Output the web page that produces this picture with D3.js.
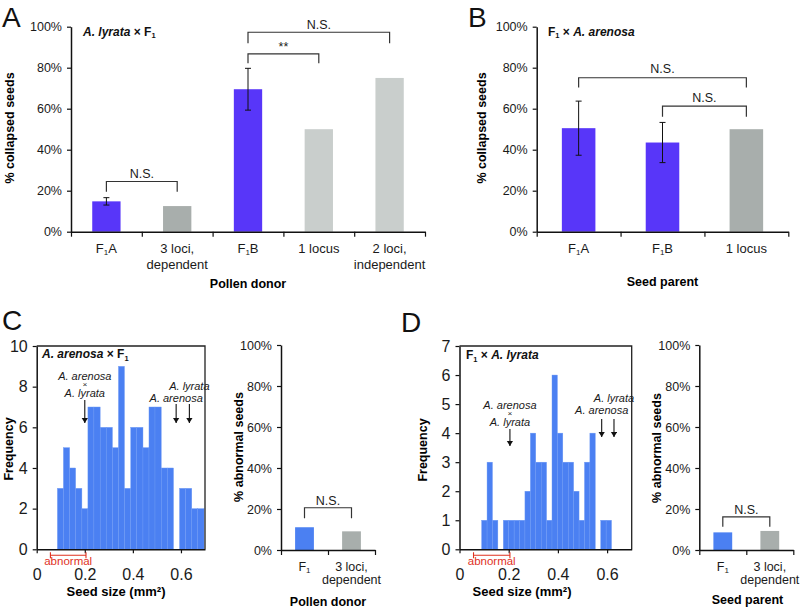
<!DOCTYPE html>
<html>
<head>
<meta charset="utf-8">
<script src="https://cdn.jsdelivr.net/npm/d3@7"></script>
<style>
  body { margin: 0; background: #fff; }
  svg { font-family: Arial, Helvetica, "Liberation Sans", sans-serif; }
</style>
</head>
<body>
<svg id="fig" width="800" height="607"></svg>
<script>
// ---- data ----
var pctTicks = [0, 20, 40, 60, 80, 100];

// A: A. lyrata x F1 (pollen donor)
var catsA = ["F₁A", "3 loci,|dependent", "F₁B", "1 locus", "2 loci,|independent"];
var valsA = [14.8, 12.5, 69.5, 50, 75];
var errA  = [1.8, 0, 10.2, 0, 0];
var sigPairsA  = [[0, 1], [2, 3], [2, 4]];
var sigLabelsA = ["N.S.", "**", "N.S."];
var sigTopA    = [24.5, 86.7, 97.3];
var sigFootA   = [19.5, 82.2, 91.9];

// B: F1 x A. arenosa (seed parent)
var catsB = ["F₁A", "F₁B", "1 locus"];
var valsB = [50.5, 43.5, 50];
var errB  = [13.2, 9.8, 0];
var sigPairsB  = [[0, 2], [1, 2]];
var sigLabelsB = ["N.S.", "N.S."];
var sigTopB    = [75.1, 61.3];
var sigFootB   = [70.4, 56.1];

// C: A. arenosa x F1, seed size histogram
var binEdgesC = [0.086, 0.111, 0.137, 0.162, 0.188, 0.213, 0.238, 0.264, 0.289, 0.315, 0.340, 0.365,
                 0.391, 0.416, 0.442, 0.467, 0.492, 0.518, 0.543, 0.569, 0.594, 0.619, 0.645, 0.670, 0.696];
var freqC = [3, 5, 4, 3, 2, 7, 7, 6, 6, 5, 9, 3, 6, 6, 5, 7, 7, 4, 4, 0, 3, 3, 2, 2];
var freqTicksC = [0, 2, 4, 6, 8, 10];
var arrowsC = [0.2, 0.58, 0.635];   // hybrid, A. arenosa, A. lyrata
var catsC = ["F₁", "3 loci,|dependent"];
var valsC = [11.1, 9.1];
var sigTopC = [20.6], sigFootC = [15.5];

// D: F1 x A. lyrata, seed size histogram
var binEdgesD = [0.090, 0.112, 0.134, 0.156, 0.178, 0.200, 0.222, 0.244, 0.266, 0.288, 0.310, 0.332,
                 0.354, 0.376, 0.398, 0.420, 0.442, 0.464, 0.486, 0.508, 0.530, 0.552, 0.574, 0.596, 0.618];
var freqD = [1, 3, 1, 0, 1, 1, 1, 1, 2, 4, 3, 3, 1, 6, 4, 3, 3, 2, 1, 3, 4, 0, 1, 1];
var freqTicksD = [0, 1, 2, 3, 4, 5, 6, 7];
var arrowsD = [0.205, 0.578, 0.628];
var catsD = ["F₁", "3 loci,|dependent"];
var valsD = [8.6, 9.3];
var sigTopD = [16.2], sigFootD = [11.4];

var sizeTicks = [0, 0.2, 0.4, 0.6];
var abnormalRange = [0.057, 0.205];

// ---- colours ----
var purple = "#5836f9", blue = "#4b80f2", grayDark = "#a8aeac", grayLight = "#c9cecc";

var svg = d3.select("#fig");

svg.append("defs").append("marker")
  .attr("id", "ah").attr("viewBox", "0 0 8 10").attr("refX", 8).attr("refY", 5)
  .attr("markerWidth", 5).attr("markerHeight", 7).attr("markerUnits", "userSpaceOnUse")
  .attr("orient", "auto")
  .append("path").attr("d", "M0,0L8,5L0,10z").attr("fill", "#111");

// text with F1 style subscripts
function addRich(t, str, subSize) {
  var parts = str.split("₁");
  t.append("tspan").text(parts[0]);
  for (var i = 1; i < parts.length; i++) {
    t.append("tspan").attr("font-size", subSize).attr("dy", 2.5).text("1");
    if (parts[i]) t.append("tspan").attr("dy", -2.5).text(parts[i]);
  }
}

function styleAxis(a, fs) {
  a.attr("font-size", fs).attr("font-family", null);
  a.selectAll("text").attr("fill", "#1a1a1a");
  a.select(".domain").attr("stroke", "#111").attr("stroke-width", 1.5);
  a.selectAll(".tick line").attr("stroke", "#111").attr("stroke-width", 1.2);
}

function barPanel(o) {
  var g = svg.append("g");
  var n = o.cats.length;
  var x = d3.scaleBand().domain(d3.range(n)).range([o.x0, o.x1]).paddingInner(0.6).paddingOuter(0.3);
  var xEdge = d3.scaleLinear().domain([0, n]).range([o.x0, o.x1]);
  var y = d3.scaleLinear().domain([0, 100]).range([o.y0, o.y1]);
  var cx = function(i) { return x(i) + x.bandwidth() / 2; };

  g.selectAll(".bar").data(o.vals).join("rect").attr("class", "bar")
    .attr("x", function(d, i) { return x(i); })
    .attr("width", x.bandwidth())
    .attr("y", function(d) { return y(d); })
    .attr("height", function(d) { return y(0) - y(d); })
    .attr("fill", function(d, i) { return o.fills[i]; });

  o.vals.forEach(function(v, i) {
    var e = o.errs[i];
    if (!e) return;
    var c = cx(i);
    g.append("path")
      .attr("d", "M" + (c - 3) + "," + y(v + e) + "H" + (c + 3) + "M" + c + "," + y(v + e) + "V" + y(v - e) +
                 "M" + (c - 3) + "," + y(v - e) + "H" + (c + 3))
      .attr("fill", "none").attr("stroke", "#111").attr("stroke-width", 1);
  });

  var ay = g.append("g").attr("transform", "translate(" + o.x0 + ",0)")
    .call(d3.axisLeft(y).tickValues(pctTicks).tickFormat(function(d) { return d + "%"; })
      .tickSize(4).tickSizeOuter(0).tickPadding(5));
  styleAxis(ay, 12.5);

  var ax = g.append("g").attr("transform", "translate(0," + o.y0 + ")")
    .call(d3.axisBottom(xEdge).tickValues(d3.range(n + 1)).tickFormat(function() { return ""; })
      .tickSize(5).tickSizeOuter(0));
  styleAxis(ax, 12.5);

  o.cats.forEach(function(c, i) {
    c.split("|").forEach(function(line, k) {
      var t = g.append("text").attr("x", cx(i)).attr("y", o.y0 + o.labDy + k * o.lineGap)
        .attr("text-anchor", "middle").attr("font-size", o.catFont).attr("fill", "#1a1a1a");
      addRich(t, line, 8);
    });
  });

  o.sigPairs.forEach(function(p, k) {
    var xa = cx(p[0]), xb = cx(p[1]), yt = y(o.sigTop[k]), yf = y(o.sigFoot[k]);
    g.append("path").attr("d", "M" + xa + "," + yf + "V" + yt + "H" + xb + "V" + yf)
      .attr("fill", "none").attr("stroke", "#333").attr("stroke-width", 1.2);
    g.append("text").attr("x", (xa + xb) / 2).attr("y", yt - o.sigGap)
      .attr("text-anchor", "middle").attr("font-size", 12.5).attr("fill", "#1a1a1a").text(o.sigLabels[k]);
  });

  g.append("text").attr("transform", "translate(" + o.ytX + "," + o.ytY + ") rotate(-90)")
    .attr("dy", "0.35em").attr("text-anchor", "middle").attr("font-weight", "bold")
    .attr("font-size", 12.5).text(o.yTitle);
  g.append("text").attr("x", o.xtX).attr("y", o.xtY).attr("text-anchor", "middle")
    .attr("font-weight", "bold").attr("font-size", 12.5).text(o.xTitle);
  return g;
}

function histPanel(o) {
  var g = svg.append("g");
  var x = d3.scaleLinear().domain([0, 0.7]).range([o.x0, o.x1]);
  var y = d3.scaleLinear().domain([0, o.yMax]).range([o.y0, o.y1]);

  g.selectAll(".bin").data(o.freq).join("rect").attr("class", "bin")
    .attr("x", function(d, i) { return x(o.edges[i]); })
    .attr("width", function(d, i) { return x(o.edges[i + 1]) - x(o.edges[i]); })
    .attr("y", function(d) { return y(d); })
    .attr("height", function(d) { return y(0) - y(d); })
    .attr("fill", blue).attr("stroke", "#6e9af5").attr("stroke-width", 0.4);

  // frame
  g.append("path").attr("d", "M" + o.x0 + "," + o.y1 + "H" + o.x1 + "V" + o.y0)
    .attr("fill", "none").attr("stroke", "#222").attr("stroke-width", 1.3);

  var ay = g.append("g").attr("transform", "translate(" + o.x0 + ",0)")
    .call(d3.axisLeft(y).tickValues(o.yTicks).tickFormat(d3.format("d"))
      .tickSize(4).tickSizeOuter(0).tickPadding(5));
  styleAxis(ay, 16);
  var ax = g.append("g").attr("transform", "translate(0," + o.y0 + ")")
    .call(d3.axisBottom(x).tickValues(sizeTicks).tickFormat(function(d) { return d === 0 ? "0" : d3.format(".1f")(d); })
      .tickSize(4).tickSizeOuter(0).tickPadding(15));
  styleAxis(ax, 16);

  // arrows to parental / hybrid seed sizes
  var ax0 = x(o.arrows[0]);
  g.append("line").attr("x1", ax0).attr("x2", ax0).attr("y1", o.arrowL[0]).attr("y2", o.arrowL[1])
    .attr("stroke", "#111").attr("stroke-width", 1.1).attr("marker-end", "url(#ah)");
  [1, 2].forEach(function(k) {
    g.append("line").attr("x1", x(o.arrows[k])).attr("x2", x(o.arrows[k]))
      .attr("y1", o.arrowR[0]).attr("y2", o.arrowR[1])
      .attr("stroke", "#111").attr("stroke-width", 1.1).attr("marker-end", "url(#ah)");
  });
  var it = function(xx, yy, s, fs) {
    g.append("text").attr("x", xx).attr("y", yy).attr("text-anchor", "middle")
      .attr("font-size", fs || 11).attr("font-style", "italic").attr("fill", "#1a1a1a").text(s);
  };
  it(ax0, o.labL[0], "A. arenosa");
  it(ax0, o.labL[1], "×", 8);
  it(ax0, o.labL[2], "A. lyrata");
  it(x(o.arrows[1]), o.labR[1], "A. arenosa");
  it(x(o.arrows[2]), o.labR[0], "A. lyrata");

  // abnormal size range
  var xa = x(abnormalRange[0]), xb = x(abnormalRange[1]), yb = o.y0 + 6;
  g.append("path").attr("d", "M" + xa + "," + (yb - 3) + "V" + (yb + 3) + "M" + xa + "," + yb + "H" + xb +
                             "M" + xb + "," + (yb - 3) + "V" + (yb + 3))
    .attr("fill", "none").attr("stroke", "#e0321f").attr("stroke-width", 1.1);
  g.append("text").attr("x", (xa + xb) / 2).attr("y", yb + 10).attr("text-anchor", "middle")
    .attr("font-size", 11.5).attr("fill", "#e0321f").text("abnormal");

  g.append("text").attr("transform", "translate(" + o.ytX + "," + o.ytY + ") rotate(-90)")
    .attr("dy", "0.35em").attr("text-anchor", "middle").attr("font-weight", "bold")
    .attr("font-size", 12.5).text("Frequency");
  g.append("text").attr("x", o.xtX).attr("y", o.xtY).attr("text-anchor", "middle")
    .attr("font-weight", "bold").attr("font-size", 13).text("Seed size (mm²)");
  return g;
}

function inTitle(xx, yy, parts) {
  var t = svg.append("text").attr("x", xx).attr("y", yy).attr("font-size", 12)
    .attr("font-weight", "bold").attr("fill", "#111");
  parts.forEach(function(p) {
    var s = t.append("tspan").text(p[0]);
    if (p[1] === "i") s.attr("font-style", "italic");
    if (p[1] === "sub") s.attr("font-size", 7.5).attr("dy", 2.5);
    if (p[1] === "up") s.attr("dy", -2.5);
  });
}

// ---- panels ----
barPanel({cats: catsA, vals: valsA, errs: errA, fills: [purple, grayDark, purple, grayLight, grayLight],
  x0: 71, x1: 425, y0: 231.7, y1: 26.7, labDy: 21, lineGap: 16, catFont: 13,
  sigPairs: sigPairsA, sigLabels: sigLabelsA, sigTop: sigTopA, sigFoot: sigFootA, sigGap: 3,
  yTitle: "% collapsed seeds", ytX: 10, ytY: 128, xTitle: "Pollen donor", xtX: 248, xtY: 288});

barPanel({cats: catsB, vals: valsB, errs: errB, fills: [purple, purple, grayDark],
  x0: 536.7, x1: 788.3, y0: 231.7, y1: 26.7, labDy: 21, lineGap: 16, catFont: 13,
  sigPairs: sigPairsB, sigLabels: sigLabelsB, sigTop: sigTopB, sigFoot: sigFootB, sigGap: 4.5,
  yTitle: "% collapsed seeds", ytX: 482, ytY: 128, xTitle: "Seed parent", xtX: 662.5, xtY: 286});

histPanel({edges: binEdgesC, freq: freqC, yMax: 10, yTicks: freqTicksC, arrows: arrowsC,
  x0: 36.7, x1: 205, y0: 549.3, y1: 346,
  arrowL: [400, 423], arrowR: [404, 423], labL: [379.5, 387, 396.5], labR: [390, 402],
  ytX: 9, ytY: 449, xtX: 116, xtY: 596});

histPanel({edges: binEdgesD, freq: freqD, yMax: 7, yTicks: freqTicksD, arrows: arrowsD,
  x0: 459.5, x1: 631.7, y0: 549.3, y1: 346,
  arrowL: [429, 446], arrowR: [419, 437], labL: [408.5, 416, 425.5], labR: [402, 414],
  ytX: 423, ytY: 450, xtX: 522, xtY: 595.5});

barPanel({cats: catsC, vals: valsC, errs: [0, 0], fills: [blue, grayDark],
  x0: 281, x1: 375, y0: 550, y1: 345, labDy: 20.5, lineGap: 13, catFont: 12.5,
  sigPairs: [[0, 1]], sigLabels: ["N.S."], sigTop: sigTopC, sigFoot: sigFootC, sigGap: 3,
  yTitle: "% abnormal seeds", ytX: 238.5, ytY: 447, xTitle: "Pollen donor", xtX: 328, xtY: 605.5});

barPanel({cats: catsD, vals: valsD, errs: [0, 0], fills: [blue, grayDark],
  x0: 699.3, x1: 793.3, y0: 550, y1: 345, labDy: 20.5, lineGap: 13, catFont: 12.5,
  sigPairs: [[0, 1]], sigLabels: ["N.S."], sigTop: sigTopD, sigFoot: sigFootD, sigGap: 3,
  yTitle: "% abnormal seeds", ytX: 657, ytY: 448, xTitle: "Seed parent", xtX: 747.5, xtY: 603.5});

inTitle(83, 35.5, [["A. lyrata", "i"], [" × F"], ["1", "sub"]]);
inTitle(548, 35.5, [["F"], ["1", "sub"], [" × ", "up"], ["A. arenosa", "i"]]);
inTitle(42, 358, [["A. arenosa", "i"], [" × F"], ["1", "sub"]]);
inTitle(466, 359, [["F"], ["1", "sub"], [" × ", "up"], ["A. lyrata", "i"]]);

// panel letters
[["A", 2, 26.5], ["B", 468, 26.5], ["C", 2, 330], ["D", 401, 332]].forEach(function(p) {
  svg.append("text").attr("x", p[1]).attr("y", p[2]).attr("font-size", 28).attr("fill", "#111").text(p[0]);
});
</script>
</body>
</html>
